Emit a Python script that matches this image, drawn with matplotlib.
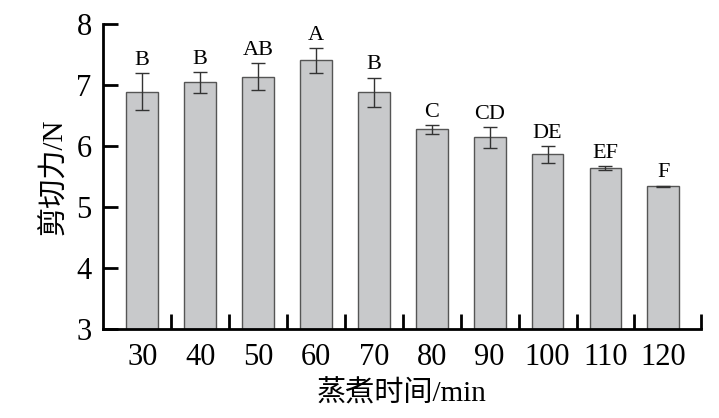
import numpy as np
import matplotlib
matplotlib.use("Agg")
import matplotlib.pyplot as plt

times = ["30", "40", "50", "60", "70", "80", "90", "100", "110", "120"]
shear = [6.89, 7.04, 7.13, 7.40, 6.88, 6.27, 6.14, 5.86, 5.64, 5.34]
errors = [0.30, 0.17, 0.22, 0.20, 0.24, 0.07, 0.17, 0.14, 0.03, 0.01]
letters = ["B", "B", "AB", "A", "B", "C", "CD", "DE", "EF", "F"]

fam = ["Liberation Serif", "Noto Sans CJK SC"]
plt.rcParams["font.family"] = fam

fig = plt.figure(figsize=(7.19, 4.18), dpi=100)
ax = fig.add_axes([0.143, 0.213, 0.832, 0.730])

x = np.arange(len(times))
ax.bar(x, shear, width=0.55, bottom=0, color="#c8c9cb", edgecolor="#555555",
       linewidth=1.0, zorder=2)
ax.errorbar(x, shear, yerr=errors, fmt="none", ecolor="#333333",
            elinewidth=1.0, capsize=5, capthick=1.0, zorder=3)

for xi, v, e, lab in zip(x, shear, errors, letters):
    ax.text(xi, v + e + 0.05, lab, ha="center", va="bottom", fontsize=16,
            family="Liberation Serif")

ax.set_ylim(3, 8)
ax.set_xlim(-0.68, 9.65)
ax.set_yticks([3, 4, 5, 6, 7, 8])
ax.set_xticks(x)
ax.set_xticklabels(times)
ax.set_xticks(list(np.arange(0.5, 9, 1.0)) + [9.65], minor=True)

ax.spines["top"].set_visible(False)
ax.spines["right"].set_visible(False)
ax.spines["left"].set_linewidth(2)
ax.spines["bottom"].set_linewidth(2)

ax.tick_params(axis="y", direction="in", length=11, width=2, labelsize=22, pad=8)
ax.tick_params(axis="x", which="major", length=0, labelsize=22, pad=10)
ax.tick_params(axis="x", which="minor", direction="in", length=11, width=2)

ax.set_ylabel("剪切力/N", fontsize=21, labelpad=6)
ax.set_xlabel("蒸煮时间/min", fontsize=21, labelpad=6)

fig.savefig("out.png", dpi=100)
